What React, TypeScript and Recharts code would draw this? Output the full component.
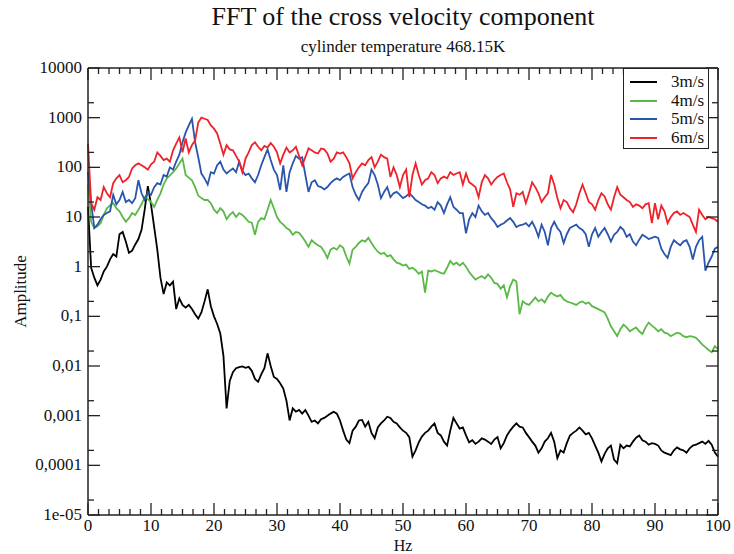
import React from 'react'
import { LineChart, Line, XAxis, YAxis, Legend } from 'recharts'

// frequency bins, 0.5 Hz apart
const hz = Array.from({ length: 201 }, (_, i) => i * 0.5)

const amp3 = [
  16, 0.95, 0.6, 0.42, 0.55, 0.8, 1.0, 1.4, 1.8, 1.6,
  4.5, 5.0, 3.2, 1.9, 2.1, 2.8, 3.6, 5.5, 14, 42,
  18, 6.3, 2.2, 0.6, 0.28, 0.48, 0.42, 0.5, 0.14, 0.23,
  0.17, 0.15, 0.17, 0.14, 0.11, 0.09, 0.12, 0.2, 0.35, 0.16,
  0.1, 0.07, 0.045, 0.016, 0.0014, 0.005, 0.0075, 0.009, 0.0095, 0.0098,
  0.0092, 0.0096, 0.008, 0.0055, 0.0048, 0.0068, 0.009, 0.018, 0.01, 0.006,
  0.0055, 0.0045, 0.0035, 0.002, 0.0008, 0.0014, 0.0012, 0.0013, 0.0011, 0.0013,
  0.001, 0.00075, 0.0008, 0.0007, 0.00085, 0.0009, 0.001, 0.0011, 0.0012, 0.0011,
  0.0008, 0.0005, 0.00033, 0.00028, 0.0005, 0.0006, 0.0008, 0.00082, 0.0006, 0.00075,
  0.00045, 0.00035, 0.00058, 0.0007, 0.0008, 0.00095, 0.0009, 0.00075, 0.0007, 0.00058,
  0.0005, 0.00045, 0.00037, 0.00015, 0.0002, 0.00029, 0.00038, 0.00045, 0.0005, 0.0006,
  0.0007, 0.00045, 0.0004, 0.0003, 0.00025, 0.0005, 0.0009, 0.0007, 0.00055, 0.00058,
  0.0004, 0.00029, 0.00032, 0.00027, 0.0003, 0.00035, 0.00033, 0.0003, 0.00027, 0.00033,
  0.00037, 0.00022, 0.00028, 0.0004, 0.0005, 0.0006, 0.0007, 0.0006, 0.00058, 0.00045,
  0.00037, 0.0003, 0.00025, 0.00018, 0.00022, 0.0003, 0.00035, 0.00045, 0.0003, 0.00014,
  0.0002, 0.00018, 0.00028, 0.0004, 0.00045, 0.0005, 0.00058, 0.0005, 0.00042, 0.00045,
  0.00035, 0.00025, 0.00018, 0.00012, 0.00017, 0.00022, 0.00025, 0.00013, 0.00011, 0.00026,
  0.00022, 0.00025, 0.00024, 0.0003, 0.00036, 0.0004, 0.00032, 0.0003, 0.00026, 0.00028,
  0.00027, 0.00025, 0.0002, 0.00018, 0.00017, 0.00016, 0.0002, 0.00023, 0.00021, 0.0002,
  0.00018, 0.00022, 0.00025, 0.00026, 0.00028, 0.0003, 0.00027, 0.00031, 0.00026, 0.00018,
  0.00015,
]

const amp4 = [
  45, 8, 6, 6.5, 7.5, 11, 15, 17, 19, 15,
  13, 10, 8, 9.5, 12, 11, 14, 18, 25, 23,
  20, 16, 22, 30, 45, 60, 68, 80, 95, 120,
  150, 70, 62, 55, 40, 27, 24, 22, 22, 19,
  14, 12, 15, 13, 9, 11, 12.5, 10, 12, 11,
  9.5, 8, 7.7, 4.4, 8, 9.5, 9, 14, 22, 15,
  10, 8, 7, 6, 5.5, 4.4, 5, 4.8, 4, 3.2,
  2.5, 3.4, 3, 2.7, 2.5, 2, 1.5, 2.2, 2.4, 2.2,
  2.7, 2.4, 1.6, 1.15, 2.2, 2.5, 3.0, 3.4, 3.2, 3.8,
  3.0, 2.4, 2.0, 1.8, 1.9, 1.6, 1.7, 1.4, 1.2, 1.15,
  1.05, 1.1, 0.9, 0.95, 0.85, 0.72, 0.8, 0.3, 0.83, 0.8,
  0.85, 0.8, 0.75, 0.72, 0.95, 1.3, 1.1, 1.2, 1.05, 1.2,
  1.0, 0.78, 0.65, 0.55, 0.6, 0.65, 0.58, 0.7, 0.6, 0.47,
  0.45, 0.36, 0.42, 0.24, 0.4, 0.55, 0.5, 0.11, 0.2, 0.18,
  0.17, 0.2, 0.24, 0.2, 0.22, 0.19, 0.25, 0.3, 0.27, 0.25,
  0.27, 0.22, 0.2, 0.19, 0.18, 0.17, 0.19, 0.2, 0.18, 0.19,
  0.16, 0.15, 0.14, 0.13, 0.12, 0.09, 0.063, 0.05, 0.04, 0.055,
  0.068, 0.06, 0.05, 0.055, 0.06, 0.05, 0.044, 0.06, 0.075, 0.065,
  0.058, 0.05, 0.055, 0.047, 0.045, 0.04, 0.043, 0.047, 0.045, 0.04,
  0.038, 0.04, 0.039, 0.037, 0.032, 0.027, 0.024, 0.021, 0.019, 0.025,
  0.022,
]

const amp5 = [
  80, 19, 6, 7, 9, 11, 12, 13, 28, 18,
  22, 32, 20, 22, 19, 24, 55, 30, 22, 32,
  28, 40, 48, 45, 70, 65, 100, 90, 130, 180,
  320, 500, 700, 950, 320, 160, 75, 60, 45, 80,
  75, 110, 130, 90, 75, 85, 95, 80, 130, 85,
  70, 75, 60, 50, 70, 110, 160, 230, 140, 90,
  70, 35, 110, 32, 80, 120, 170, 150, 160, 70,
  32, 50, 55, 42, 40, 36, 40, 48, 55, 60,
  55, 64, 70, 75, 40, 28, 22, 32, 40, 48,
  90, 70, 45, 24, 32, 40, 25, 30, 32, 28,
  24, 26, 30, 26, 22, 20, 18, 17, 15, 16,
  14, 20, 17, 12, 18, 25, 16, 14, 12, 12,
  4.7, 9, 12, 10, 17, 13, 11, 12, 9.5, 8,
  6.3, 7, 7.5, 8.5, 9.5, 8, 6.3, 6.8, 7, 7.5,
  6.5, 8, 6, 4, 7, 5, 2.7, 6, 8, 6,
  5, 3, 4.5, 6, 6.5, 7, 6, 5.5, 4.5, 2.5,
  4.5, 6, 4, 5, 6, 4.5, 3.2, 4.4, 5, 6.3,
  5.5, 4, 4.5, 3.2, 2.7, 3.5, 4.4, 4, 3.6, 3.8,
  4, 3.8, 2.3, 1.8, 1.5, 2.5, 3.4, 3, 2.7, 3.2,
  3.4, 2.5, 1.4, 2.5, 3.4, 4, 0.83, 1.2, 1.6, 2.3,
  2.5,
]

const amp6 = [
  300, 19, 14, 25, 22, 40, 30, 25, 48, 60,
  70, 50, 55, 64, 95, 110, 120, 110, 100, 90,
  115, 130, 200, 170, 140, 150, 130, 220, 300, 400,
  200, 380, 200, 280, 350, 800, 1000, 950, 900, 700,
  600, 480, 300, 180, 280, 230, 220, 170, 130, 80,
  150, 200, 280, 320, 260, 220, 270, 250, 310, 260,
  200, 120, 180, 250, 200, 220, 260, 170, 110, 160,
  240, 220, 200, 190, 240, 230, 190, 130, 150, 200,
  190, 200, 160, 120, 60, 80, 100, 120, 110, 140,
  160, 100, 130, 180, 160, 150, 64, 100, 70, 40,
  70, 90, 25, 70, 120, 70, 45, 55, 60, 80,
  70, 48, 60, 65, 60, 80, 70, 75, 80, 45,
  75, 50, 45, 40, 25, 50, 70, 60, 45, 55,
  64, 70, 75, 50, 36, 16, 30, 28, 32, 19,
  30, 50, 40, 30, 20, 25, 30, 70, 45, 24,
  15, 22, 20, 15, 12.5, 18, 30, 45, 30, 20,
  18, 14, 22, 30, 26, 18, 14, 25, 40, 28,
  25, 22, 20, 16, 18, 17, 15, 18, 19, 7.5,
  19, 9, 17, 13, 7.5, 10, 12, 13, 11, 12,
  11, 10, 7, 5, 14, 11, 9, 10, 9.5, 9,
  8,
]

const series = [
  { key: 'v3', name: '3m/s', color: '#000000', values: amp3 },
  { key: 'v4', name: '4m/s', color: '#5ab946', values: amp4 },
  { key: 'v5', name: '5m/s', color: '#2a55ad', values: amp5 },
  { key: 'v6', name: '6m/s', color: '#ee2229', values: amp6 },
]

const xMajor = [0, 10, 20, 30, 40, 50, 60, 70, 80, 90, 100]
const yMajor = [1e-5, 1e-4, 1e-3, 1e-2, 1e-1, 1, 10, 100, 1000, 10000]
const yLabels = ['1e-05', '0,0001', '0,001', '0,01', '0,1', '1', '10', '100', '1000', '10000']

const data = hz.map((h, i) => {
  const row: any = { hz: h }
  series.forEach(s => { row[s.key] = s.values[i] })
  return row
})

// 5 minor ticks between x majors, one minor (2x) per decade on y
const xTicks: number[] = []
xMajor.forEach((m, i) => {
  xTicks.push(m)
  if (i < xMajor.length - 1) for (let k = 1; k < 6; k++) xTicks.push(m + (k * 10) / 6)
})
const yTicks: number[] = []
yMajor.forEach((m, i) => {
  yTicks.push(m)
  if (i < yMajor.length - 1) yTicks.push(m * 2)
})

const font = '"Liberation Serif", "DejaVu Serif", "Times New Roman", serif'
const axisColor = '#222'
const isMajorX = (v: number) => xMajor.some(m => Math.abs(m - v) < 1e-6)
const majorIndexY = (v: number) => yMajor.findIndex(m => Math.abs(m - v) / m < 1e-6)

function BottomTick({ x, y, payload }: any) {
  const major = isMajorX(payload.value)
  return (
    <g>
      <line x1={x} x2={x} y1={y} y2={y - (major ? 12 : 6)} stroke={axisColor} strokeWidth={1.3} />
      {major && (
        <text x={x} y={y + 16} textAnchor="middle" fontSize={17} fontFamily={font} fill="#111">
          {payload.value}
        </text>
      )}
    </g>
  )
}

function TopTick({ x, y, payload }: any) {
  const major = isMajorX(payload.value)
  return <line x1={x} x2={x} y1={y} y2={y + (major ? 12 : 6)} stroke={axisColor} strokeWidth={1.3} />
}

function LeftTick({ x, y, payload }: any) {
  const idx = majorIndexY(payload.value)
  return (
    <g>
      <line x1={x} x2={x + (idx >= 0 ? 12 : 6)} y1={y} y2={y} stroke={axisColor} strokeWidth={1.3} />
      {idx >= 0 && (
        <text x={x - 6} y={y + 5} textAnchor="end" fontSize={17} fontFamily={font} fill="#111">
          {yLabels[idx]}
        </text>
      )}
    </g>
  )
}

function RightTick({ x, y, payload }: any) {
  const idx = majorIndexY(payload.value)
  return <line x1={x} x2={x - (idx >= 0 ? 12 : 6)} y1={y} y2={y} stroke={axisColor} strokeWidth={1.3} />
}

function LegendBox({ payload }: any) {
  return (
    <div
      style={{
        width: 86,
        height: 81,
        boxSizing: 'border-box',
        border: `1.5px solid ${axisColor}`,
        background: '#fff',
        padding: '4px 4px 0 6px',
        fontFamily: font,
      }}
    >
      {(payload || []).map((p: any) => (
        <div
          key={p.value}
          style={{ display: 'flex', alignItems: 'center', justifyContent: 'space-between', height: 18.5 }}
        >
          <span style={{ display: 'inline-block', width: 27, height: 2, background: p.color }} />
          <span style={{ fontSize: 17, color: '#111', lineHeight: '18px' }}>{p.value}</span>
        </div>
      ))}
    </div>
  )
}

export default function App() {
  return (
    <div style={{ position: 'absolute', left: 0, top: 0, width: 734, height: 554, background: '#fff', fontFamily: font }}>
      <div style={{ position: 'absolute', left: 0, width: 806, top: 2, textAlign: 'center', fontSize: 26, color: '#111' }}>
        FFT of the cross velocity component
      </div>
      <div style={{ position: 'absolute', left: 0, width: 806, top: 37, textAlign: 'center', fontSize: 17, color: '#111' }}>
        cylinder temperature 468.15K
      </div>
      <LineChart width={734} height={554} data={data} margin={{ top: 67, right: 15, bottom: 0, left: 0 }}>
        <XAxis
          xAxisId="bottom"
          dataKey="hz"
          type="number"
          domain={[0, 100]}
          ticks={xTicks}
          interval={0}
          height={39}
          tickSize={0}
          tickMargin={0}
          tickLine={false}
          tick={<BottomTick />}
          axisLine={{ stroke: axisColor, strokeWidth: 1.5 }}
          label={{ value: 'Hz', position: 'insideBottom', offset: 3, fontSize: 16, fill: '#111', fontFamily: font }}
        />
        <XAxis
          xAxisId="top"
          orientation="top"
          dataKey="hz"
          type="number"
          domain={[0, 100]}
          ticks={xTicks}
          interval={0}
          height={1}
          tickSize={0}
          tickMargin={0}
          tickLine={false}
          tick={<TopTick />}
          axisLine={{ stroke: axisColor, strokeWidth: 1.5 }}
        />
        <YAxis
          yAxisId="left"
          type="number"
          scale="log"
          domain={[1e-5, 1e4]}
          ticks={yTicks}
          interval={0}
          width={88}
          tickSize={0}
          tickMargin={0}
          tickLine={false}
          tick={<LeftTick />}
          allowDataOverflow
          axisLine={{ stroke: axisColor, strokeWidth: 1.5 }}
          label={{
            value: 'Amplitude',
            angle: -90,
            position: 'insideLeft',
            offset: 20,
            fontSize: 17,
            fill: '#111',
            fontFamily: font,
            style: { textAnchor: 'middle' },
          }}
        />
        <YAxis
          yAxisId="right"
          orientation="right"
          type="number"
          scale="log"
          domain={[1e-5, 1e4]}
          ticks={yTicks}
          interval={0}
          width={1}
          tickSize={0}
          tickMargin={0}
          tickLine={false}
          tick={<RightTick />}
          allowDataOverflow
          axisLine={{ stroke: axisColor, strokeWidth: 1.5 }}
        />
        <Legend
          layout="vertical"
          align="center"
          verticalAlign="middle"
          content={<LegendBox />}
          wrapperStyle={{ left: 623, top: 68, width: 86, height: 81 }}
        />
        {series.map(s => (
          <Line
            key={s.key}
            xAxisId="bottom"
            yAxisId="left"
            dataKey={s.key}
            name={s.name}
            type="linear"
            stroke={s.color}
            strokeWidth={1.8}
            dot={false}
            isAnimationActive={false}
          />
        ))}
      </LineChart>
    </div>
  )
}
